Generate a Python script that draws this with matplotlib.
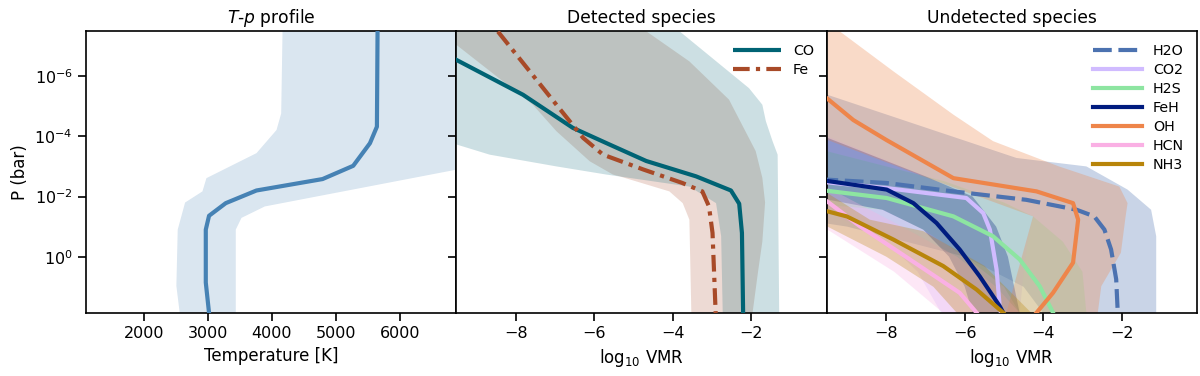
import numpy as np
import matplotlib
matplotlib.use("Agg")
import matplotlib.pyplot as plt

# ---- T-p profile (log10 P in bar, T in K) ----
tp_logp = [-7.5, -4.32, -3.77, -3.02, -2.58, -2.2, -1.78, -1.36, -0.9, 0.86, 1.87]
tp_temp = [5650, 5640, 5531, 5270, 4792, 3760, 3281, 3020, 2969, 2969, 3020]
tp_lo_logp = [-7.5, -4.76, -4.21, -3.44, -2.61, -2.17, -1.8, -0.9, 0.97, 1.87]
tp_lo_temp = [4167, 4146, 4073, 3760, 2979, 2917, 2646, 2531, 2510, 2562]
tp_hi_logp = [-7.5, -4.0, -2.89, -1.67, -1.29, -0.9, 1.87]
tp_hi_temp = [7600, 7500, 6875, 3890, 3526, 3437, 3437]

# ---- detected species (log10 VMR) ----
co_logp = [-7.5, -6.54, -5.38, -4.28, -3.73, -3.18, -2.67, -2.2, -1.76, -0.79, 1.87]
co_vmr = [-10.8, -9.52, -7.82, -6.55, -5.62, -4.68, -3.41, -2.52, -2.31, -2.24, -2.21]
co_lo_logp = [-7.5, -3.73, -3.39, -3.0, -2.73, -2.33, -1.78, -0.68, 1.87]
co_lo_vmr = [-11, -9.52, -8.67, -6.97, -5.70, -3.58, -2.9, -2.77, -2.73]
co_hi_logp = [-7.5, -5.6, -5.05, -4.5, -3.84, -3.39, 1.87]
co_hi_vmr = [-3.84, -2.06, -1.72, -1.63, -1.46, -1.33, -1.29]

fe_logp = [-7.48, -5.05, -3.95, -3.39, -2.9, -2.45, -2.17, -1.67, -0.79, 1.87]
fe_vmr = [-8.46, -6.97, -6.29, -5.78, -4.76, -3.76, -3.25, -3.08, -2.99, -2.91]
fe_lo_logp = [-7.5, -7.04, -5.05, -4.17, -3.17, -2.73, -2.67, -2.17, -1.78, -1.23, 1.87]
fe_lo_vmr = [-11, -9.52, -7.57, -6.97, -6.12, -5.53, -5.36, -4.09, -3.75, -3.58, -3.53]
fe_hi_logp = [-7.5, -6.49, -5.22, -3.51, -2.62, -1.8, -0.5, 0.5, 1.87]
fe_hi_vmr = [-4.69, -3.58, -2.57, -1.89, -1.72, -1.65, -1.72, -1.83, -1.97]

# ---- undetected species ----
h2o_logp = [-2.65, -2.56, -2.45, -2.17, -1.89, -1.56, -1.34, -0.9, -0.24, 0.75, 1.86]
h2o_vmr = [-11, -9.51, -8.0, -6.29, -4.43, -3.15, -2.7, -2.44, -2.27, -2.14, -2.1]
h2o_lo_logp = [-7.5, -2.0, -1.0, 0.0, 1.0, 1.87]
h2o_lo_vmr = [-20, -14, -9.0, -6.0, -4.5, -4.0]
h2o_hi_logp = [-7.5, -5.38, -3.28, -3.0, -2.23, -1.56, -0.68, 1.87]
h2o_hi_vmr = [-12, -9.5, -4.68, -2.9, -1.85, -1.25, -1.12, -1.12]

co2_logp = [-2.7, -2.47, -2.28, -1.95, -1.45, -0.9, 0.42, 1.64, 1.86]
co2_vmr = [-11, -9.51, -7.99, -5.96, -5.53, -5.36, -5.19, -5.11, -5.08]
co2_lo_logp = [-7.5, -2.5, -1.5, -0.5, 0.5, 1.87]
co2_lo_vmr = [-20, -14, -9.5, -8.0, -7.2, -6.6]
co2_hi_logp = [-7.5, -4.0, -2.67, -2.0, -1.34, -0.5, 0.5, 1.87]
co2_hi_vmr = [-14, -9.5, -7.0, -5.5, -4.26, -4.4, -4.5, -4.6]

h2s_logp = [-2.45, -2.19, -1.95, -1.34, -0.68, 0.09, 0.98, 1.86]
h2s_vmr = [-11, -9.51, -7.99, -6.29, -5.28, -4.6, -4.09, -3.75]
h2s_lo_logp = [-7.5, -2.0, -1.56, -0.9, 0.0, 1.0, 1.87]
h2s_lo_vmr = [-20, -12, -8.08, -7.06, -6.0, -5.0, -4.6]
h2s_hi_logp = [-7.5, -3.5, -2.5, -1.8, -1.34, -0.5, 0.5, 1.87]
h2s_hi_vmr = [-14, -9.5, -6.5, -5.0, -4.26, -3.5, -3.0, -2.9]

feh_logp = [-2.8, -2.52, -2.23, -1.78, -1.12, -0.24, 0.65, 1.64, 1.86]
feh_vmr = [-11, -9.52, -7.99, -7.31, -6.72, -6.13, -5.62, -5.11, -5.02]
feh_lo_logp = [-7.5, -2.5, -1.56, -0.9, 0.0, 1.0, 1.87]
feh_lo_vmr = [-20, -12, -8.1, -7.06, -6.4, -6.0, -5.8]
feh_hi_logp = [-7.5, -3.95, -2.67, -2.0, -1.0, 0.0, 1.87]
feh_hi_vmr = [-14, -9.5, -7.0, -5.8, -5.2, -4.9, -4.6]

oh_logp = [-7.5, -5.26, -4.54, -3.88, -2.61, -2.17, -1.78, -1.23, 0.2, 1.2, 1.86]
oh_vmr = [-12, -9.51, -8.84, -8.0, -6.29, -4.17, -3.24, -3.11, -3.24, -3.75, -4.17]
oh_lo_logp = [-7.5, -4.5, -3.88, -2.67, -1.34, 1.87]
oh_lo_vmr = [-20, -14, -9.5, -7.06, -4.26, -4.94]
oh_hi_logp = [-7.5, -6.16, -4.72, -3.84, -3.0, -2.33, -1.78, -1.34, -0.13, 0.98, 1.87]
oh_hi_vmr = [-9.2, -7.82, -6.29, -5.28, -3.6, -2.06, -1.85, -1.9, -2.02, -2.52, -2.61]

hcn_logp = [-2.8, -1.84, -1.01, 0.09, 1.2, 1.86]
hcn_vmr = [-11, -9.51, -8.67, -7.4, -6.13, -5.7]
hcn_lo_logp = [-7.5, -0.9, 0.5, 1.87]
hcn_lo_vmr = [-20, -9.5, -7.8, -6.55]
hcn_hi_logp = [-7.5, -2.3, -1.0, 0.0, 1.0, 1.87]
hcn_hi_vmr = [-14, -9.5, -7.6, -6.2, -5.2, -4.6]

nh3_logp = [-1.8, -1.51, -1.34, -0.57, 0.31, 1.09, 1.86]
nh3_vmr = [-11, -9.51, -9.01, -7.82, -6.55, -5.7, -5.02]
nh3_lo_logp = [-7.5, -1.0, 0.0, 1.0, 1.87]
nh3_lo_vmr = [-20, -9.5, -8.0, -6.8, -6.2]
nh3_hi_logp = [-7.5, -2.11, -1.23, -0.85, 0.3, 1.87]
nh3_hi_vmr = [-14, -9.5, -8.42, -7.06, -5.5, -4.3]

detected = [
    ("CO", "#006374", (0, ()), co_vmr, co_logp, co_lo_vmr, co_lo_logp, co_hi_vmr, co_hi_logp),
    ("Fe", "#a84a28", (0, (4, 1.5, 1, 1.5)), fe_vmr, fe_logp, fe_lo_vmr, fe_lo_logp, fe_hi_vmr, fe_hi_logp),
]
undetected = [
    ("H2O", "#4c72b0", (0, (4.5, 1.6)), h2o_vmr, h2o_logp, h2o_lo_vmr, h2o_lo_logp, h2o_hi_vmr, h2o_hi_logp),
    ("CO2", "#d0bbff", "-", co2_vmr, co2_logp, co2_lo_vmr, co2_lo_logp, co2_hi_vmr, co2_hi_logp),
    ("H2S", "#8de5a1", "-", h2s_vmr, h2s_logp, h2s_lo_vmr, h2s_lo_logp, h2s_hi_vmr, h2s_hi_logp),
    ("FeH", "#001c7f", "-", feh_vmr, feh_logp, feh_lo_vmr, feh_lo_logp, feh_hi_vmr, feh_hi_logp),
    ("OH", "#ee854a", "-", oh_vmr, oh_logp, oh_lo_vmr, oh_lo_logp, oh_hi_vmr, oh_hi_logp),
    ("HCN", "#fab0e4", "-", hcn_vmr, hcn_logp, hcn_lo_vmr, hcn_lo_logp, hcn_hi_vmr, hcn_hi_logp),
    ("NH3", "#b8850a", "-", nh3_vmr, nh3_logp, nh3_lo_vmr, nh3_lo_logp, nh3_hi_vmr, nh3_hi_logp),
]


def band(ax, lo_x, lo_p, hi_x, hi_p, color, alpha):
    xs = list(lo_x) + list(hi_x)[::-1]
    ps = 10 ** np.array(list(lo_p) + list(hi_p)[::-1])
    ax.fill(xs, ps, color=color, alpha=alpha, lw=0, zorder=1)


plt.rcParams['font.family'] = 'DejaVu Sans'
plt.rcParams['axes.linewidth'] = 1.2

fig, axes = plt.subplots(1, 3, figsize=(12, 3.76), dpi=100, sharey=True)
fig.subplots_adjust(left=0.0717, right=0.9975, top=0.9176, bottom=0.1676, wspace=0)

# T-p panel
ax = axes[0]
band(ax, tp_lo_temp, tp_lo_logp, tp_hi_temp, tp_hi_logp, "steelblue", 0.2)
ax.plot(tp_temp, 10 ** np.array(tp_logp), color="steelblue", lw=3, zorder=3)
ax.set_xlim(1100, 6880)
ax.set_xticks([2000, 3000, 4000, 5000, 6000])
ax.set_xlabel("Temperature [K]", fontsize=12)
ax.set_ylabel("P (bar)", fontsize=12)
ax.set_title("$T$-$p$ profile", fontsize=12.3)

# detected: Fe band under CO band so the overlap looks grey
for ax, species, band_order, title, alpha in [
        (axes[1], detected, detected[::-1], "Detected species", 0.2),
        (axes[2], undetected, undetected, "Undetected species", 0.3)]:
    for name, c, ls, x, p, lx, lp, hx, hp in band_order:
        band(ax, lx, lp, hx, hp, c, alpha)
    for name, c, ls, x, p, lx, lp, hx, hp in species:
        ax.plot(x, 10 ** np.array(p), color=c, ls=ls, lw=3, label=name, zorder=3)
    ax.set_xlim(-9.52, -0.08)
    ax.set_xticks([-8, -6, -4, -2])
    ax.set_xlabel("log$_{10}$ VMR", fontsize=12)
    ax.set_title(title, fontsize=12.3)
    ax.legend(loc="upper right", frameon=False, fontsize=10.3, handlelength=3.4,
              labelspacing=0.35)

ax = axes[0]
ax.set_yscale("log")
ax.set_ylim(10 ** 1.87, 10 ** -7.5)
ax.set_yticks([1e-6, 1e-4, 1e-2, 1e0])
ax.yaxis.set_minor_locator(matplotlib.ticker.NullLocator())
for a in axes:
    a.tick_params(length=6, width=1.2, labelsize=11.5)
    a.tick_params(which="minor", length=0)

fig.savefig("out.png", dpi=100)
